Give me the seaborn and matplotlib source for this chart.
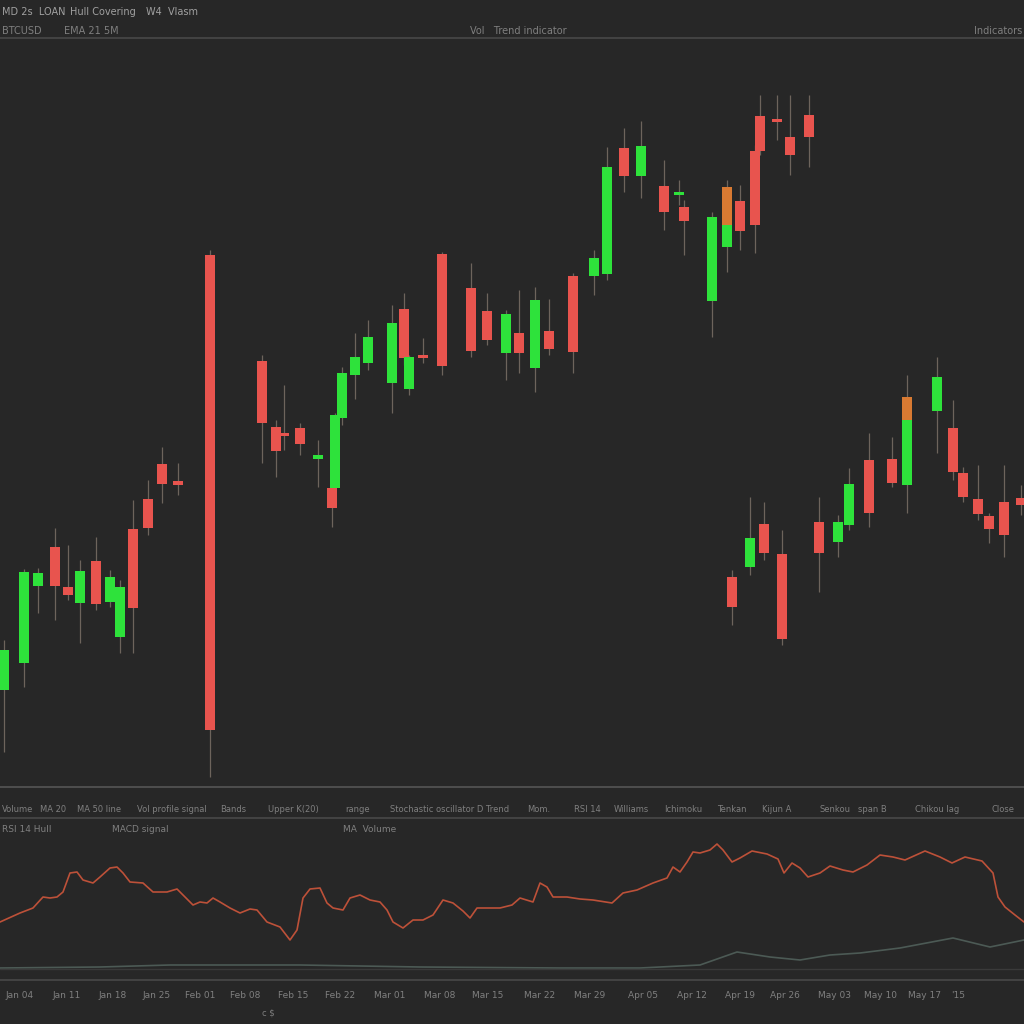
import numpy as np
import pandas as pd
import seaborn as sns
import matplotlib.pyplot as plt
from matplotlib.lines import Line2D

# candles: position, open, high, low, close
cx = [4, 24, 38, 55, 68, 80, 96, 110, 120, 133, 148, 162, 178, 210,
      262, 276, 284, 300, 318, 332, 335, 342, 355, 368, 392, 404, 409, 423, 442,
      471, 487, 506, 519, 535, 549, 573, 594, 607, 624, 641, 664, 679, 684,
      712, 727, 740, 755, 760, 777, 790, 809,
      732, 750, 764, 782, 819, 838, 849, 869, 892, 907, 937, 953, 963, 978, 989, 1004, 1021]
c_open = [95, 122, 199, 238, 198, 182, 224, 183, 148, 256, 286, 321, 304, 530,
          424, 358, 352, 357, 326, 297, 297, 367, 410, 422, 402, 476, 396, 428, 531,
          497, 474, 432, 452, 417, 454, 509, 509, 511, 637, 609, 599, 590, 578,
          484, 538, 584, 634, 669, 665, 648, 670,
          208, 218, 261, 231, 263, 243, 260, 325, 326, 300, 374, 357, 312, 286, 269, 283, 287]
c_high = [145, 216, 217, 257, 240, 225, 248, 215, 205, 285, 305, 338, 322, 535,
          430, 365, 400, 362, 345, 300, 372, 418, 452, 465, 480, 492, 430, 447, 533,
          522, 492, 475, 495, 498, 486, 512, 535, 638, 657, 664, 625, 605, 585,
          573, 560, 600, 640, 690, 690, 690, 690,
          215, 288, 283, 255, 288, 270, 317, 352, 348, 368, 428, 385, 318, 320, 272, 320, 300]
c_low = [33, 98, 172, 165, 185, 142, 175, 178, 132, 132, 250, 282, 290, 8,
         322, 308, 335, 330, 298, 258, 290, 360, 386, 415, 372, 420, 390, 422, 410,
         428, 440, 405, 412, 393, 430, 412, 490, 505, 593, 587, 555, 580, 530,
         448, 513, 535, 532, 630, 645, 610, 618,
         160, 210, 225, 140, 193, 228, 255, 258, 298, 272, 332, 305, 283, 265, 242, 228, 270]
c_close = [135, 213, 212, 199, 190, 214, 181, 208, 198, 177, 257, 301, 300, 55,
           362, 334, 349, 341, 330, 277, 370, 412, 428, 448, 462, 427, 428, 427, 419,
           434, 445, 471, 432, 485, 436, 433, 527, 618, 609, 639, 573, 593, 564,
           568, 560, 554, 560, 634, 663, 630, 648,
           178, 247, 232, 146, 232, 263, 301, 272, 302, 365, 408, 313, 288, 271, 256, 250, 280]

# orange highlighted bodies
ox = [727, 907]
o_open = [598, 388]
o_close = [560, 365]
o_high = [605, 410]

# indicator panel
ind_x = [0, 20, 33, 43, 50, 57, 63, 70, 77, 83, 93, 100, 110, 117, 123, 130, 143, 153, 167,
         177, 183, 193, 200, 207, 213, 220, 230, 240, 250, 257, 267, 280, 290, 297, 303, 310,
         320, 327, 333, 343, 350, 360, 370, 380, 387, 393, 403, 413, 423, 433, 443, 453, 463,
         470, 477, 490, 500, 512, 520, 533, 540, 547, 553, 567, 580, 593, 612, 623, 637, 653,
         667, 673, 680, 687, 693, 700, 710, 717, 723, 732, 740, 752, 767, 778, 784, 792, 800,
         808, 820, 830, 843, 853, 867, 880, 893, 905, 925, 940, 952, 965, 982, 993, 998, 1005,
         1015, 1024]
ind_y = [922, 913, 908, 897, 898, 897, 892, 873, 872, 880, 883, 877, 868, 867, 873, 882, 883,
         892, 892, 889, 895, 905, 902, 903, 898, 902, 908, 913, 909, 910, 922, 927, 940, 930,
         898, 889, 888, 903, 908, 910, 898, 895, 900, 902, 910, 922, 928, 920, 920, 915, 900,
         903, 911, 918, 908, 908, 908, 905, 898, 902, 883, 887, 897, 897, 899, 900, 903, 893,
         890, 883, 878, 867, 872, 862, 852, 853, 850, 844, 850, 862, 858, 851, 854, 859, 873,
         863, 868, 877, 873, 866, 870, 872, 865, 855, 857, 860, 851, 857, 863, 857, 861, 873,
         897, 907, 915, 922]
sig_x = [0, 100, 170, 300, 420, 560, 640, 700, 737, 770, 800, 830, 860, 900, 953, 990, 1024]
sig_y = [968, 967, 965, 965, 967, 968, 968, 965, 952, 957, 960, 955, 953, 948, 938, 947, 940]

date_pos = [20, 67, 113, 157, 200, 245, 293, 340, 390, 440, 488, 540, 590, 643, 692, 740,
            785, 835, 880, 925, 958]
date_labels = ['Jan 04', 'Jan 11', 'Jan 18', 'Jan 25', 'Feb 01', 'Feb 08', 'Feb 15', 'Feb 22',
               'Mar 01', 'Mar 08', 'Mar 15', 'Mar 22', 'Mar 29', 'Apr 05', 'Apr 12', 'Apr 19',
               'Apr 26', 'May 03', 'May 10', 'May 17', "'15"]

BG = '#272727'
GREEN = '#2ee23b'
RED = '#e8544e'
ORANGE = '#d97a32'
TXT = '#7f7f7f'

sns.set_theme(style='dark', rc={'axes.facecolor': BG, 'figure.facecolor': BG})
plt.rcParams['font.family'] = ['DejaVu Sans']

fig = plt.figure(figsize=(10.24, 10.24), dpi=100)
H = 1024.0

ax = fig.add_axes([0, 1 - 787 / H, 1, (787 - 40) / H])
ax.set_facecolor(BG)
df = pd.DataFrame({'x': cx, 'open': c_open, 'high': c_high, 'low': c_low, 'close': c_close})
df['up'] = df['close'] >= df['open']
df['lo'] = df[['open', 'close']].min(axis=1)
df['hgt'] = (df['close'] - df['open']).abs().clip(lower=3)

ax.vlines(df['x'], df['low'], df['high'], color='#857a6e', lw=0.9, alpha=0.75, zorder=1)
ax.bar(df['x'], df['hgt'], bottom=df['lo'], width=10,
       color=np.where(df['up'], GREEN, RED), edgecolor='none', zorder=2)
ax.vlines(ox, o_close, o_high, color='#857a6e', lw=0.9, alpha=0.75, zorder=1)
ax.bar(ox, np.array(o_open) - np.array(o_close), bottom=o_close, width=10,
       color=ORANGE, edgecolor='none', zorder=3)
ax.set_xlim(0, 1024)
ax.set_ylim(-2, 745)
ax.set_xticks([])
ax.set_yticks([])
for s in ax.spines.values():
    s.set_visible(False)

ax2 = fig.add_axes([0, (1024 - 980) / H, 1, 140 / H])
ax2.set_facecolor(BG)
sns.lineplot(x=ind_x, y=[980 - v for v in ind_y], ax=ax2, color='#bd5139', lw=1.2)
sns.lineplot(x=sig_x, y=[980 - v for v in sig_y], ax=ax2, color='#4c5a55', lw=1.2)
ax2.axhline(980 - 969, color='#3a3a3a', lw=1.0)
ax2.set_xlim(0, 1024)
ax2.set_ylim(0, 140)
ax2.set_yticks([])
ax2.set_xticks(date_pos)
ax2.set_xticklabels(date_labels, fontsize=6.5, color=TXT)
ax2.tick_params(axis='x', length=0, pad=8)
for s in ax2.spines.values():
    s.set_visible(False)

for y, c in [(38, '#484848'), (787, '#555555'), (818, '#484848'), (980, '#484848')]:
    fig.add_artist(Line2D([0, 1], [1 - y / H, 1 - y / H], color=c, lw=1.2,
                          transform=fig.transFigure))

def ftxt(x, y, s, size=6.5, ha='left', color=TXT):
    fig.text(x / H, 1 - y / H, s, fontsize=size, color=color, ha=ha, va='center')

ftxt(2, 12, 'MD 2s  LOAN', 7, color='#a0a0a0')
ftxt(70, 12, 'Hull Covering', 7, color='#a0a0a0')
ftxt(146, 12, 'W4  Vlasm', 7, color='#a0a0a0')
ftxt(2, 31, 'BTCUSD', 7)
ftxt(64, 31, 'EMA 21 5M', 7)
ftxt(470, 31, 'Vol   Trend indicator', 7)
ftxt(1022, 31, 'Indicators', 7, ha='right')

row_labels = [(2, 'Volume'), (40, 'MA 20'), (77, 'MA 50 line'), (137, 'Vol profile signal'),
              (220, 'Bands'), (268, 'Upper K(20)'), (345, 'range'),
              (390, 'Stochastic oscillator D Trend'), (527, 'Mom.'), (574, 'RSI 14'),
              (614, 'Williams'), (664, 'Ichimoku'), (717, 'Tenkan'), (762, 'Kijun A'),
              (819, 'Senkou'), (858, 'span B'), (915, 'Chikou lag'), (992, 'Close')]
for x, s in row_labels:
    ftxt(x, 810, s, 6)

ftxt(2, 830, 'RSI 14 Hull', 6.5)
ftxt(112, 830, 'MACD signal', 6.5)
ftxt(343, 830, 'MA  Volume', 6.5)
ftxt(262, 1013, 'c $', 6)

fig.savefig('out.png', dpi=100, facecolor=BG)
